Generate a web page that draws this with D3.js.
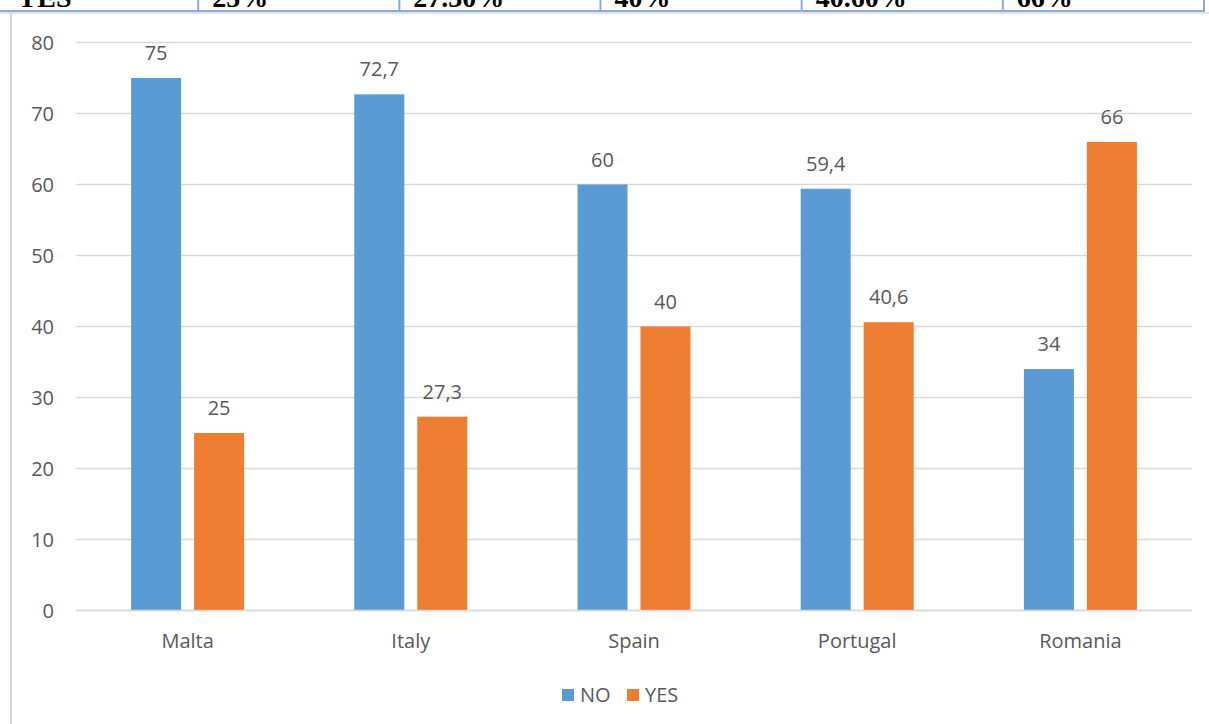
<!DOCTYPE html>
<html>
<head>
<meta charset="utf-8">
<script src="https://cdn.jsdelivr.net/npm/d3@7"></script>
<style>
  html, body { margin: 0; padding: 0; background: #fff; }
  svg { display: block; }
</style>
</head>
<body>
<svg id="chart" width="1209" height="724"></svg>
<script>
// ---- data ----
const categories = ["Malta", "Italy", "Spain", "Portugal", "Romania"];
const seriesNames = ["NO", "YES"];
const noValues = [75, 72.7, 60, 59.4, 34];
const yesValues = [25, 27.3, 40, 40.6, 66];
const yTicks = [0, 10, 20, 30, 40, 50, 60, 70, 80];
const tableRow = ["YES", "25%", "27.30%", "40%", "40.60%", "66%"];
const seriesColors = ["#5B9BD5", "#ED7D31"];

const svg = d3.select("#chart");
const font = "'Open Sans', 'Noto Sans', sans-serif";
const textColor = "#595959";

// ---- cut-off table row at top ----
const tableCols = d3.scaleBand().domain(d3.range(tableRow.length)).range([-3, 1204]);
svg.append("g").selectAll("text").data(tableRow).join("text")
  .attr("x", (d, i) => (i === 0 ? 17 : tableCols(i) + 14))
  .attr("y", 7)
  .attr("font-family", "'Liberation Serif', serif")
  .attr("font-weight", "bold")
  .attr("font-size", 28)
  .attr("fill", "#000")
  .text(d => d);
svg.append("rect").attr("x", 0).attr("y", 12).attr("width", 1209).attr("height", 2).attr("fill", "#e3e3e3");
svg.append("line").attr("x1", 0).attr("x2", 1205).attr("y1", 11).attr("y2", 11)
  .attr("stroke", "#8eaadb").attr("stroke-width", 2);
svg.append("g").selectAll("line").data(d3.range(1, tableRow.length + 1)).join("line")
  .attr("x1", i => i === tableRow.length ? 1204 : tableCols(i))
  .attr("x2", i => i === tableRow.length ? 1204 : tableCols(i))
  .attr("y1", 0).attr("y2", 12)
  .attr("stroke", "#8eaadb").attr("stroke-width", 2);
// chart frame left edge
svg.append("rect").attr("x", 10).attr("y", 12).attr("width", 2).attr("height", 712).attr("fill", "#d9d9d9");

// ---- scales ----
const plotLeft = 76, plotRight = 1192;
const y = d3.scaleLinear().domain([0, 80]).range([610.5, 42.5]);
const x0 = d3.scaleBand().domain(categories).range([plotLeft, plotRight]);
const groupWidth = 113;
const x1 = d3.scaleBand().domain(seriesNames).range([0, groupWidth]).paddingInner(0.206);
const groupOffset = (x0.bandwidth() - groupWidth) / 2;

// ---- gridlines ----
svg.append("g").selectAll("line").data(yTicks).join("line")
  .attr("x1", plotLeft).attr("x2", plotRight)
  .attr("y1", d => y(d)).attr("y2", d => y(d))
  .attr("stroke", "#d9d9d9").attr("stroke-width", 1.6);

// y tick labels
svg.append("g").selectAll("text").data(yTicks).join("text")
  .attr("x", 54).attr("y", d => y(d)).attr("dy", "0.35em")
  .attr("text-anchor", "end")
  .attr("font-family", font).attr("font-size", 20).attr("fill", textColor)
  .text(d => d);

// ---- bars ----
const rows = categories.map((c, i) => ({ cat: c, vals: [noValues[i], yesValues[i]] }));
const groups = svg.append("g").selectAll("g").data(rows).join("g")
  .attr("transform", d => `translate(${x0(d.cat) + groupOffset},0)`);

groups.selectAll("rect").data(d => d.vals.map((v, j) => ({ s: seriesNames[j], v, j }))).join("rect")
  .attr("x", d => x1(d.s))
  .attr("width", x1.bandwidth())
  .attr("y", d => y(d.v))
  .attr("height", d => y(0) - y(d.v))
  .attr("fill", d => seriesColors[d.j]);

groups.selectAll("text").data(d => d.vals.map((v, j) => ({ s: seriesNames[j], v, j }))).join("text")
  .attr("x", d => x1(d.s) + x1.bandwidth() / 2)
  .attr("y", d => y(d.v) - 18)
  .attr("text-anchor", "middle")
  .attr("font-family", font).attr("font-size", 20).attr("fill", textColor)
  .text(d => String(d.v).replace(".", ","));

// zero axis line over bars
svg.append("line").attr("x1", plotLeft).attr("x2", plotRight)
  .attr("y1", y(0)).attr("y2", y(0))
  .attr("stroke", "#d9d9d9").attr("stroke-width", 1.6);

// category labels
svg.append("g").selectAll("text").data(categories).join("text")
  .attr("x", d => x0(d) + x0.bandwidth() / 2)
  .attr("y", 648)
  .attr("text-anchor", "middle")
  .attr("font-family", font).attr("font-size", 20).attr("fill", textColor)
  .text(d => d);

// ---- legend ----
const legendX = [562, 627];
const legend = svg.append("g").selectAll("g").data(seriesNames).join("g")
  .attr("transform", (d, i) => `translate(${legendX[i]},689)`);
legend.append("rect").attr("width", 12).attr("height", 12)
  .attr("fill", (d, i) => seriesColors[i]);
legend.append("text").attr("x", 18).attr("y", 12.5)
  .attr("font-family", font).attr("font-size", 20).attr("fill", textColor)
  .text(d => d);
</script>
</body>
</html>
